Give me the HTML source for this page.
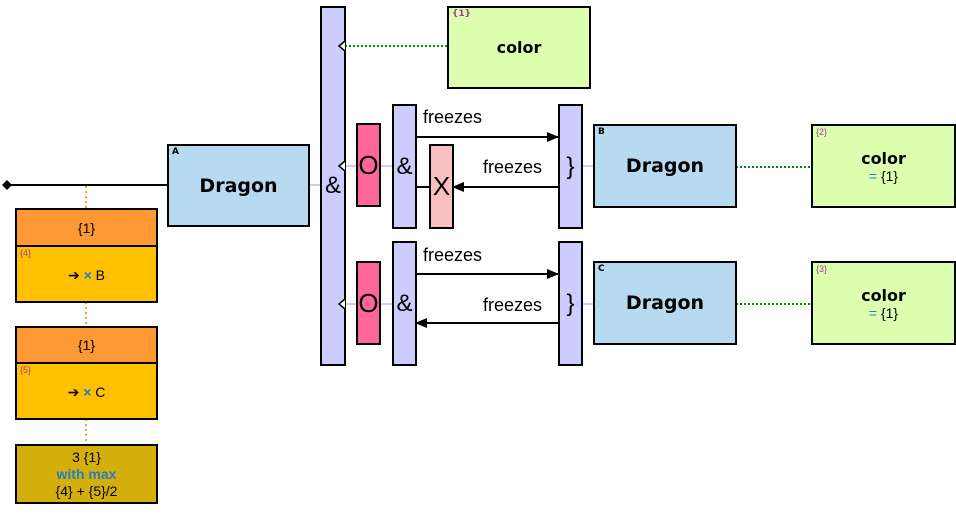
<!DOCTYPE html>
<html><head><style>
body{margin:0;width:956px;height:515px;background:#fff;position:relative;overflow:hidden;font-family:"Liberation Sans",sans-serif}
.b{position:absolute;box-sizing:border-box;border:2px solid #000}
.c{display:flex;align-items:center;justify-content:center;text-align:center}
.lab{position:absolute;font-size:9px;left:3px;top:1px}
.pl{position:absolute;font-size:9px;left:3px;top:1px;color:#a040a0}
.dr{font-family:"DejaVu Sans","Liberation Sans",sans-serif;font-weight:bold;font-size:19px}
.cl{font-family:"DejaVu Sans","Liberation Sans",sans-serif;font-weight:bold;font-size:16px}
.bar{background:#ccccff;font-size:24px}
</style></head><body>
<svg width="956" height="515" style="position:absolute;left:0;top:0">
<defs><marker id="a" markerWidth="12" markerHeight="10" refX="11" refY="5" orient="auto" markerUnits="userSpaceOnUse"><path d="M0,0L12,5L0,10z" fill="#000"/></marker></defs>
<g stroke="#ccccff" stroke-width="2">
<line x1="309" y1="185" x2="321" y2="185"/><line x1="345" y1="166" x2="393" y2="166"/><line x1="345" y1="304" x2="393" y2="304"/>
<line x1="582" y1="166" x2="594" y2="166"/><line x1="582" y1="304" x2="594" y2="304"/></g>
<line x1="8" y1="185" x2="167" y2="185" stroke="#000" stroke-width="2"/>
<path d="M2,185L7,180L12,185L7,190z" fill="#000"/>
<g stroke="#f5a030" stroke-width="2" stroke-dasharray="2,3"><line x1="86" y1="186" x2="86" y2="209"/><line x1="86" y1="302" x2="86" y2="327"/><line x1="86" y1="419" x2="86" y2="445"/></g>
<g stroke="#008800" stroke-width="2" stroke-dasharray="2,2"><line x1="345" y1="46" x2="447" y2="46"/><line x1="736" y1="167" x2="812" y2="167"/><line x1="736" y1="304" x2="812" y2="304"/></g>
<g stroke="#000" stroke-width="2">
<line x1="416" y1="137" x2="558" y2="137" marker-end="url(#a)"/>
<line x1="558" y1="187" x2="453" y2="187" marker-end="url(#a)"/>
<line x1="416" y1="187" x2="430" y2="187"/>
<line x1="416" y1="274" x2="558" y2="274" marker-end="url(#a)"/>
<line x1="558" y1="323" x2="416" y2="323" marker-end="url(#a)"/></g>
</svg>
<div class="b c dr" style="left:167px;top:144px;width:143px;height:83px;background:#b8daf0"><span class="lab">A</span>Dragon</div>
<div class="b c bar" style="left:320px;top:6px;width:26px;height:360px">&amp;</div>
<svg width="956" height="515" style="position:absolute;left:0;top:0">
<g fill="#fff" stroke="#000" stroke-width="1.5"><path d="M345,41L339,46L345,51"/><path d="M345,161L339,166L345,171"/><path d="M345,299L339,304L345,309"/></g></svg>
<div class="b c cl" style="left:447px;top:6px;width:144px;height:83px;background:#ddffb0"><span class="pl">{1}</span>color</div>
<div class="b c" style="left:356px;top:123px;width:25px;height:84px;background:#ff6699;font-size:26px">O</div>
<div class="b c" style="left:356px;top:261px;width:25px;height:84px;background:#ff6699;font-size:26px">O</div>
<div class="b c bar" style="left:392px;top:104px;width:25px;height:125px">&amp;</div>
<div class="b c bar" style="left:392px;top:241px;width:25px;height:125px">&amp;</div>
<div class="b c" style="left:429px;top:144px;width:25px;height:85px;background:#f8c0c0;font-size:26px">X</div>
<div class="b c bar" style="left:558px;top:104px;width:25px;height:125px">}</div>
<div class="b c bar" style="left:558px;top:241px;width:25px;height:125px">}</div>
<div style="position:absolute;left:423px;top:107px;font-size:18px">freezes</div>
<div style="position:absolute;left:483px;top:157px;font-size:18px">freezes</div>
<div style="position:absolute;left:423px;top:245px;font-size:18px">freezes</div>
<div style="position:absolute;left:483px;top:295px;font-size:18px">freezes</div>
<div class="b c dr" style="left:593px;top:124px;width:144px;height:84px;background:#b8daf0"><span class="lab">B</span>Dragon</div>
<div class="b c dr" style="left:593px;top:261px;width:144px;height:84px;background:#b8daf0"><span class="lab">C</span>Dragon</div>
<div class="b c" style="left:811px;top:124px;width:145px;height:84px;background:#ddffb0;flex-direction:column"><span class="pl">{2}</span><span class="cl">color</span><span style="font-size:14px"><span style="color:#1e7ec8">=</span> {1}</span></div>
<div class="b c" style="left:811px;top:261px;width:145px;height:84px;background:#ddffb0;flex-direction:column"><span class="pl">{3}</span><span class="cl">color</span><span style="font-size:14px"><span style="color:#1e7ec8">=</span> {1}</span></div>
<div class="b" style="left:15px;top:208px;width:143px;height:95px;background:#ffc000">
<div class="c" style="height:35px;background:#ff9933;border-bottom:2px solid #000;font-size:14px">{1}</div>
<span class="pl" style="top:38px">{4}</span><div class="c" style="height:56px;font-size:14px">➔&nbsp;<b style="color:#1e7ec8">×</b>&nbsp;B</div></div>
<div class="b" style="left:15px;top:326px;width:143px;height:94px;background:#ffc000">
<div class="c" style="height:34px;background:#ff9933;border-bottom:2px solid #000;font-size:14px">{1}</div>
<span class="pl" style="top:37px">{5}</span><div class="c" style="height:56px;font-size:14px">➔&nbsp;<b style="color:#1e7ec8">×</b>&nbsp;C</div></div>
<div class="b c" style="left:15px;top:444px;width:143px;height:60px;background:#d4af0c;flex-direction:column;font-size:14px;line-height:17px">
<span>3 {1}</span><b style="color:#1e7ec8">with max</b><span>{4} + {5}/2</span></div>
</body></html>
